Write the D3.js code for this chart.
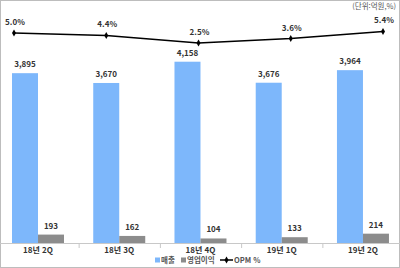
<!DOCTYPE html>
<html lang="ko">
<head>
  <meta charset="UTF-8">
  <title>Chart</title>
  <script src="https://d3js.org/d3.v7.min.js"></script>
  <style>
    body { margin: 0; }
    text { font-family: "Noto Sans CJK KR", "Noto Sans", sans-serif; }
  </style>
</head>
<body>
  <div id="viz"></div>

  <script>
    // Data
    const categories = ['18년 2Q', '18년 3Q', '18년 4Q', '19년 1Q', '19년 2Q'];
    const sales = [3895, 3670, 4158, 3676, 3964];
    const opProfit = [193, 162, 104, 133, 214];
    const opm = [5.0, 4.4, 2.5, 3.6, 5.4];

    const W = 400, H = 268;
    const axisY = 243;

    const svg = d3.select('#viz')
      .append('svg')
        .attr('width', W)
        .attr('height', H);

    // chart border
    svg.append('rect')
      .attr('x', 0.5).attr('y', 0.5)
      .attr('width', W - 1).attr('height', H - 1)
      .attr('fill', '#fff')
      .attr('stroke', '#bdbdbd');

    // Scales
    const x = d3.scaleBand()
      .domain(categories)
      .range([-2.6, 403.6]);
    const xSub = d3.scaleBand()
      .domain(['sales', 'op'])
      .range([14.6, 66.6]);
    const y = d3.scaleLinear()
      .domain([0, 5000])
      .range([axisY, 25]);
    // secondary axes for the OPM line
    const x2 = d3.scalePoint()
      .domain(categories)
      .range([14, 383]);
    const y2 = d3.scaleLinear()
      .domain([0, 6])
      .range([53, 29]);

    // bars
    const groups = svg.append('g')
      .selectAll('g')
      .data(categories)
      .join('g')
        .attr('transform', d => `translate(${x(d)},0)`);

    groups.append('rect')
      .attr('x', xSub('sales'))
      .attr('width', xSub.bandwidth())
      .attr('y', (d, i) => y(sales[i]))
      .attr('height', (d, i) => axisY - y(sales[i]))
      .attr('fill', '#7db7fb');

    groups.append('rect')
      .attr('x', xSub('op'))
      .attr('width', xSub.bandwidth())
      .attr('y', (d, i) => y(opProfit[i]))
      .attr('height', (d, i) => axisY - y(opProfit[i]))
      .attr('fill', '#8c8c8c');

    groups.append('text')
      .attr('x', xSub('sales') + xSub.bandwidth() / 2)
      .attr('y', (d, i) => y(sales[i]) - 6)
      .attr('text-anchor', 'middle')
      .attr('font-size', 8)
      .attr('font-weight', 'bold')
      .attr('fill', '#333')
      .text((d, i) => d3.format(',')(sales[i]));

    groups.append('text')
      .attr('x', xSub('op') + xSub.bandwidth() / 2)
      .attr('y', (d, i) => y(opProfit[i]) - 6)
      .attr('text-anchor', 'middle')
      .attr('font-size', 8)
      .attr('font-weight', 'bold')
      .attr('fill', '#333')
      .text((d, i) => opProfit[i]);

    // category axis
    const xAxis = svg.append('g')
      .attr('transform', `translate(0,${axisY})`)
      .call(d3.axisBottom(x).tickSize(0));
    xAxis.select('.domain').attr('stroke', '#c8c8c8');
    xAxis.selectAll('text')
      .attr('y', 9.5)
      .attr('dy', 0)
      .attr('font-size', 8)
      .attr('font-weight', 'bold')
      .attr('fill', '#333');
    xAxis.selectAll('.sep')
      .data(categories)
      .join('line')
        .attr('class', 'sep')
        .attr('x1', d => x(d) + 0.5).attr('x2', d => x(d) + 0.5)
        .attr('y1', 0).attr('y2', 5)
        .attr('stroke', '#c8c8c8');

    // OPM line
    const line = d3.line()
      .x((d, i) => x2(categories[i]))
      .y(d => y2(d));

    svg.append('path')
      .datum(opm)
      .attr('d', line)
      .attr('fill', 'none')
      .attr('stroke', '#000')
      .attr('stroke-width', 1.5);

    const diamond = d3.symbol().type(d3.symbolDiamond).size(14);
    svg.selectAll('.pt')
      .data(opm)
      .join('path')
        .attr('class', 'pt')
        .attr('d', diamond)
        .attr('transform', (d, i) => `translate(${x2(categories[i])},${y2(d)})`)
        .attr('fill', '#000');

    svg.selectAll('.pct')
      .data(opm)
      .join('text')
        .attr('class', 'pct')
        .attr('x', (d, i) => x2(categories[i]) + 1)
        .attr('y', d => y2(d) - 8)
        .attr('text-anchor', 'middle')
        .attr('font-size', 8)
        .attr('font-weight', 'bold')
        .attr('fill', '#333')
        .text(d => d.toFixed(1) + '%');

    // unit note
    svg.append('text')
      .attr('x', 396).attr('y', 9)
      .attr('text-anchor', 'end')
      .attr('font-size', 7.5)
      .attr('fill', '#555')
      .text('(단위:억원,%)');

    // legend
    const legend = svg.append('g').attr('transform', 'translate(155,262.5)');
    const lgFont = 7.5;
    legend.append('rect').attr('x', 0).attr('y', -5).attr('width', 5).attr('height', 5).attr('fill', '#7db7fb');
    legend.append('text').attr('x', 6).attr('y', 0).attr('font-size', lgFont).attr('font-weight', 'bold').attr('fill', '#555').text('매출');
    legend.append('rect').attr('x', 26).attr('y', -5).attr('width', 5).attr('height', 5).attr('fill', '#8c8c8c');
    legend.append('text').attr('x', 32).attr('y', 0).attr('font-size', lgFont).attr('font-weight', 'bold').attr('fill', '#555').text('영업이익');
    legend.append('line').attr('x1', 65).attr('x2', 78).attr('y1', -2.5).attr('y2', -2.5).attr('stroke', '#000').attr('stroke-width', 1.5);
    legend.append('path').attr('d', diamond).attr('transform', 'translate(71.5,-2.5)').attr('fill', '#000');
    legend.append('text').attr('x', 79).attr('y', 0).attr('font-size', lgFont).attr('font-weight', 'bold').attr('fill', '#555').text('OPM %');
  </script>
</body>
</html>
